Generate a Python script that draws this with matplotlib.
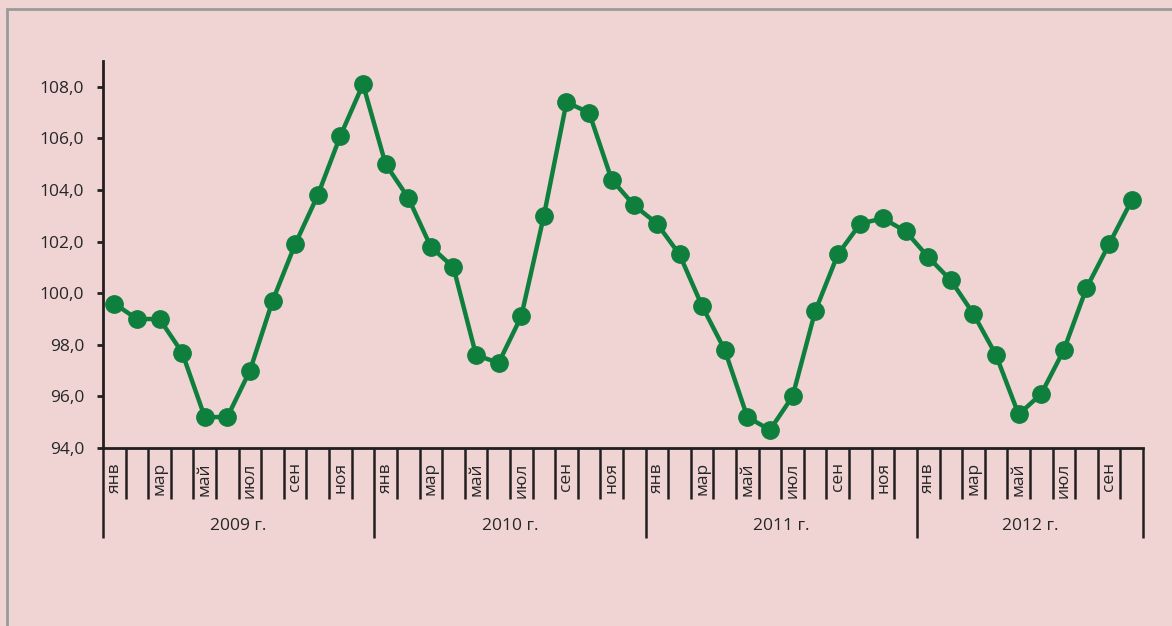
import matplotlib.pyplot as plt
from matplotlib.patches import Rectangle

plt.rcParams['font.family'] = ['Open Sans', 'DejaVu Sans']

# monthly index values, Jan 2009 .. Oct 2012
values = [99.6, 99.0, 99.0, 97.7, 95.2, 95.2, 97.0, 99.7, 101.9, 103.8, 106.1, 108.1,
          105.0, 103.7, 101.8, 101.0, 97.6, 97.3, 99.1, 103.0, 107.4, 107.0, 104.4, 103.4,
          102.7, 101.5, 99.5, 97.8, 95.2, 94.7, 96.0, 99.3, 101.5, 102.7, 102.9, 102.4,
          101.4, 100.5, 99.2, 97.6, 95.3, 96.1, 97.8, 100.2, 101.9, 103.6]
months = ["янв", "", "мар", "", "май", "", "июл", "", "сен", "", "ноя", ""]
years = ["2009 г.", "2010 г.", "2011 г.", "2012 г."]
yticks = [94, 96, 98, 100, 102, 104, 106, 108]

bg = '#f0d4d4'
green = '#0f7f3d'
dark = '#231f20'

fig = plt.figure(figsize=(11.72, 6.26), dpi=100, facecolor=bg)
ax = fig.add_axes([103/1172, 1 - 448/626, 1040/1172, 387/626])
ax.set_facecolor(bg)

n = len(values)
x = list(range(n))
ax.plot(x, values, color=green, lw=3.2, marker='o', ms=12.5, zorder=3, clip_on=False)

ax.set_xlim(-0.5, n - 0.5)
ax.set_ylim(94, 109)
ax.set_yticks(yticks)
ax.set_yticklabels([f"{v:.1f}".replace('.', ',') for v in yticks], fontsize=12.5, color='#262626')

for s in ['top', 'right']:
    ax.spines[s].set_visible(False)
ax.spines['left'].set_linewidth(2)
ax.spines['bottom'].set_linewidth(2)
ax.spines['left'].set_color(dark)
ax.spines['bottom'].set_color(dark)
ax.tick_params(axis='y', direction='out', length=4.5, width=2, color=dark, pad=9)

# year boundaries as major ticks, month boundaries as minor
year_edges = [-0.5 + 12 * k for k in range(len(years))] + [n - 0.5]
ax.set_xticks(year_edges)
ax.set_xticklabels([])
ax.set_xticks([i - 0.5 for i in range(1, n)], minor=True)
ax.tick_params(axis='x', which='major', direction='out', length=65, width=1.8, color=dark)
ax.tick_params(axis='x', which='minor', direction='out', length=37, width=1.8, color=dark)

for i in range(n):
    lab = months[i % 12]
    if lab:
        ax.text(i, 93.45, lab, rotation=90, ha='center', va='top', fontsize=12.5,
                color='#262626', clip_on=False)

for k, y in enumerate(years):
    lo = year_edges[k]
    hi = year_edges[k + 1]
    ax.text((lo + hi) / 2, 90.98, y, ha='center', va='center', fontsize=12.5,
            color='#262626', clip_on=False)

fig.patches.append(Rectangle((7/1172, -0.1), 2, 1.1 - 9/626, transform=fig.transFigure,
                             fill=False, edgecolor='#9a9a9a', lw=2))

fig.savefig('out.png', dpi=100, facecolor=bg)
